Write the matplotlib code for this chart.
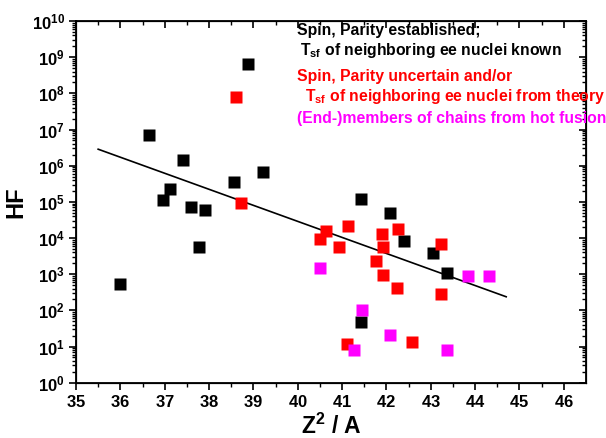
import numpy as np
import matplotlib
matplotlib.use("Agg")
import matplotlib.pyplot as plt

plt.rcParams['font.family'] = ['Liberation Sans', 'DejaVu Sans']
plt.rcParams['font.weight'] = 'bold'
plt.rcParams['mathtext.fontset'] = 'custom'
plt.rcParams['mathtext.rm'] = 'Liberation Sans:bold'
plt.rcParams['mathtext.bf'] = 'Liberation Sans:bold'
plt.rcParams['mathtext.it'] = 'Liberation Sans:bold'
plt.rcParams['mathtext.default'] = 'bf'

# Spin, parity established (black)
black_x = [36.65, 38.87, 37.42, 39.21, 38.57, 37.12, 36.96, 37.60, 37.90, 37.78, 35.99,
           41.43, 42.08, 42.40, 43.04, 43.37, 41.43]
black_y = [6.9e6, 6.3e8, 1.4e6, 6.8e5, 3.5e5, 2.2e5, 1.1e5, 7.1e4, 5.9e4, 5.7e3, 5.4e2,
           1.2e5, 5.0e4, 8.3e3, 3.9e3, 1.1e3, 4.9e1]

# Spin, parity uncertain (red)
red_x = [38.60, 38.72, 40.64, 41.14, 40.51, 41.91, 42.26, 40.94, 41.92, 43.23, 41.76,
         41.92, 42.23, 43.23, 41.12, 42.57]
red_y = [7.9e7, 9.1e4, 1.55e4, 2.2e4, 9.4e3, 1.3e4, 1.78e4, 5.5e3, 5.7e3, 6.9e3, 2.3e3,
         9.5e2, 4.1e2, 2.8e2, 1.2e1, 1.3e1]

# (End-)members of hot fusion chains (magenta)
mag_x = [40.51, 43.83, 44.31, 41.46, 42.07, 41.27, 43.37]
mag_y = [1.5e3, 8.9e2, 8.7e2, 1.0e2, 2.1e1, 8.0, 8.0]

# Fit line: log10(HF) = a + b * Z^2/A
fit_a = 22.20
fit_b = -0.4435
fit_range = [35.5, 44.7]

fig = plt.figure(figsize=(6.06, 4.38), dpi=100)
ax = fig.add_axes([0.1254, 0.1263, 0.8416, 0.8257])

fx = np.linspace(fit_range[0], fit_range[1], 50)
ax.plot(fx, 10 ** (fit_a + fit_b * fx), color='black', lw=1.2, zorder=2)

ms = 8.6
ax.plot(black_x, black_y, 's', color='black', ms=ms, mec='none', zorder=3)
ax.plot(red_x, red_y, 's', color='#ff0000', ms=ms, mec='none', zorder=3)
ax.plot(mag_x, mag_y, 's', color='#ff00ff', ms=ms, mec='none', zorder=3)

ax.set_yscale('log')
ax.set_xlim(35, 46.5)
ax.set_ylim(1, 1e10)
ax.set_xticks(np.arange(35, 47, 1))
ax.set_xticks(np.arange(35.5, 46.5, 1), minor=True)
ax.yaxis.set_major_locator(matplotlib.ticker.LogLocator(base=10, numticks=20))
ax.yaxis.set_minor_locator(matplotlib.ticker.LogLocator(base=10, subs=np.arange(2, 10), numticks=20))
ax.yaxis.set_minor_formatter(matplotlib.ticker.NullFormatter())
ax.xaxis.set_major_formatter(matplotlib.ticker.FuncFormatter(lambda v, p: r'$\mathbf{%d}$' % round(v)))
ax.yaxis.set_major_formatter(matplotlib.ticker.FuncFormatter(
    lambda v, p: r'$\mathbf{10^{%d}}$' % round(np.log10(v))))

ax.tick_params(which='major', direction='out', length=5, width=1.2, labelsize=12, pad=3)
ax.tick_params(which='minor', direction='out', length=3, width=1.0)

for s in ax.spines.values():
    s.set_linewidth(1.3)

# inward ticks on top and right
axr = ax.twinx()
axr.set_yscale('log')
axr.set_ylim(ax.get_ylim())
axr.yaxis.set_major_locator(matplotlib.ticker.LogLocator(base=10, numticks=20))
axr.yaxis.set_minor_locator(matplotlib.ticker.LogLocator(base=10, subs=np.arange(2, 10), numticks=20))
axr.tick_params(which='major', direction='in', length=5, width=1.2, labelright=False)
axr.tick_params(which='minor', direction='in', length=3, width=1.0, labelright=False)
axt = ax.twiny()
axt.set_xlim(ax.get_xlim())
axt.set_xticks(np.arange(35, 47, 1))
axt.set_xticks(np.arange(35.5, 46.5, 1), minor=True)
axt.tick_params(which='major', direction='in', length=5, width=1.2, labeltop=False)
axt.tick_params(which='minor', direction='in', length=3, width=1.0, labeltop=False)

ax.set_xlabel(r'Z$^{\mathbf{2}}$ / A', fontsize=16.5, fontweight='bold', labelpad=3)
ax.set_ylabel('HF', fontsize=17, fontweight='bold', labelpad=3)

tkw = dict(fontsize=11.3, fontweight='bold', transform=fig.transFigure, va='center', ha='left')
def fy(py):
    return 1 - py / 438.0
fig.text(297 / 606, fy(31), 'Spin, Parity established;', color='black', **tkw)
fig.text(300 / 606, fy(51), r'$\mathbf{T_{sf}}$ of neighboring ee nuclei known', color='black', **tkw)
fig.text(297 / 606, fy(76), 'Spin, Parity uncertain and/or', color='#ff0000', **tkw)
fig.text(305 / 606, fy(96), r'$\mathbf{T_{sf}}$ of neighboring ee nuclei from theory', color='#ff0000', **tkw)
fig.text(297 / 606, fy(118), '(End-)members of chains from hot fusion', color='#ff00ff', **tkw)

fig.savefig('out.png', dpi=100)
